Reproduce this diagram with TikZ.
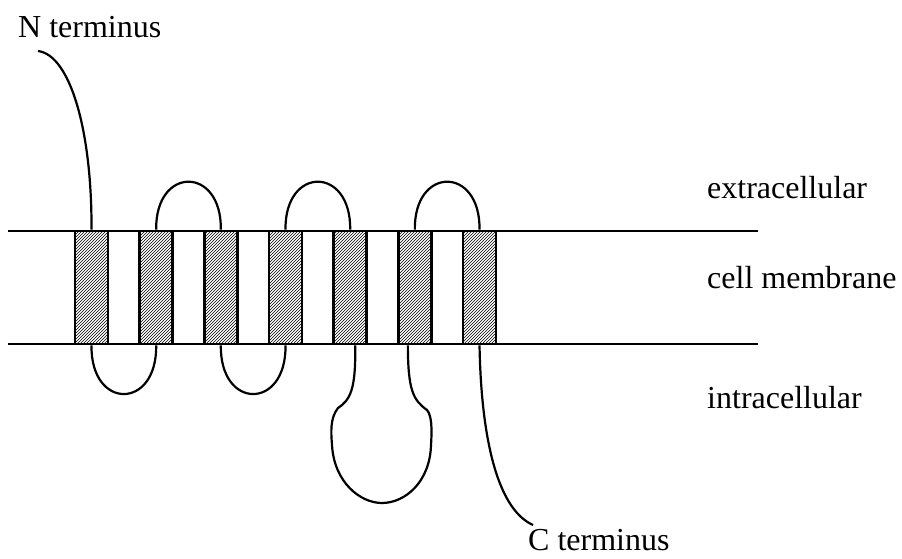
\documentclass[tikz,border=0pt]{standalone}
\usepackage{fontspec}
\setmainfont{Liberation Serif}
\usetikzlibrary{patterns}
\tikzset{
  helix/.style={draw, line width=2.6pt, pattern=north east lines, minimum width=33pt, minimum height=113pt, inner sep=0pt},
  chain/.style={line width=2.2pt},
  lbl/.style={anchor=base west, inner sep=0pt, font=\fontsize{32}{38}\selectfont}
}
\begin{document}
\begin{tikzpicture}[x=1pt, y=-1pt]
    \useasboundingbox (0,0) rectangle (902,559);
    % Membrane
    \coordinate (mtl) at (8,231); \coordinate (mtr) at (758,231);
    \coordinate (mbl) at (8,344); \coordinate (mbr) at (758,344);
    \draw[line width=2pt] (mtl) -- (mtr); \draw[line width=2pt] (mbl) -- (mbr);

    % Helices
    \foreach \i in {1,...,7}
      \node[helix] (h\i) at ({91.5+64.67*(\i-1)},287.5) {};

    % Outer loops
    \draw[chain] (h2.north) .. controls +(-1,-64) and +(1,-64) .. (h3.north);
    \draw[chain] (h4.north) .. controls +(-1,-64) and +(1,-64) .. (h5.north);
    \draw[chain] (h6.north) .. controls +(-1,-64) and +(1,-64) .. (h7.north);

    % Inner loops
    \draw[chain] (h1.south) .. controls +(-1,65) and +(1,65) .. (h2.south);
    \draw[chain] (h3.south) .. controls +(-1,65) and +(1,65) .. (h4.south);
    \draw[chain] ([xshift=5pt]h5.south) .. controls (356,390) and (350,400) .. (338,408)
      .. controls (330,418) and (331,432) .. (332,445)
      .. controls (334,482) and (360,503) .. (382,503)
      .. controls (405,503) and (430,482) .. (431,445)
      .. controls (432,430) and (432,416) .. (427,410)
      .. controls (413,400) and (408,390) .. ([xshift=-7pt]h6.south);

    % Termini
    \node[lbl] (ntext) at (18,38) {N terminus};
    \node[lbl] (ctext) at (528,550) {C terminus};
    \coordinate (nend) at (38,51); \coordinate (cend) at (533,525);
    \draw[chain] (nend) .. controls (70,55) and (92,130) .. (h1.north);
    \draw[chain] (h7.south) .. controls (481,430) and (495,508) .. (cend);

    % Regions
    \node[lbl] (extra) at (707,198) {extracellular};
    \node[lbl] (memb) at (707,288) {cell membrane};
    \node[lbl] (intra) at (707,408) {intracellular};
\end{tikzpicture}
\end{document}
